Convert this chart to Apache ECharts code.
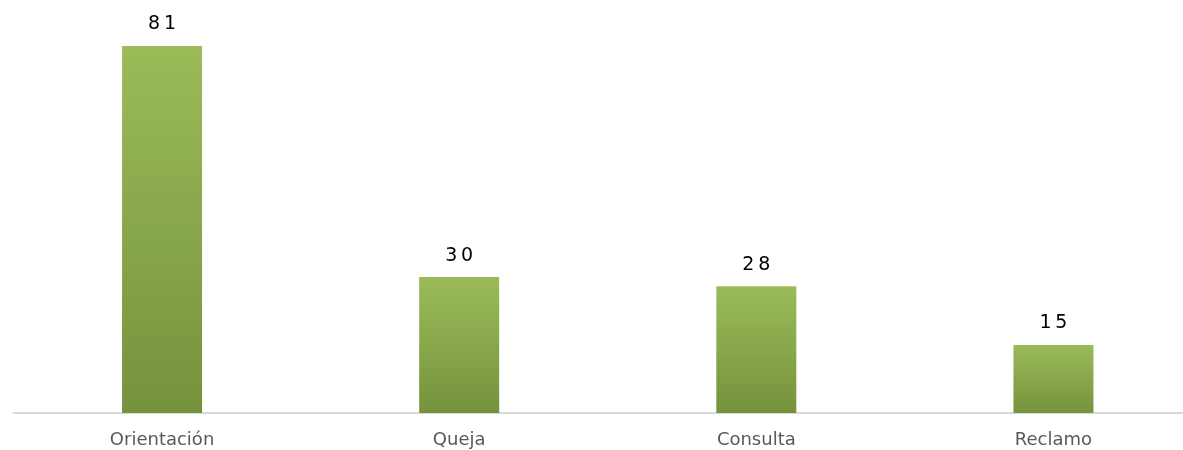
<!DOCTYPE html>
<html>
<head>
<meta charset="utf-8">
<script src="https://cdn.jsdelivr.net/npm/echarts@6/dist/echarts.min.js"></script>
<style>
html,body{margin:0;padding:0;background:#fff;overflow:hidden;width:1183px;height:450px;}
#chart{width:1202px;height:450px;}
</style>
</head>
<body>
<div id="chart"></div>
<script>
const categories = ["Orientación", "Queja", "Consulta", "Reclamo"];
const values = [81, 30, 28, 15];

const chart = echarts.init(document.getElementById('chart'));
chart.setOption({
  animation: false,
  grid: { left: 13.5, top: 46, right: 0, bottom: 37, containLabel: false },
  xAxis: {
    type: 'category',
    data: categories,
    axisLine: { lineStyle: { color: '#d9d9d9', width: 2 } },
    axisTick: { show: false },
    axisLabel: { color: '#595959', fontSize: 18, margin: 18, fontFamily: 'DejaVu Sans' }
  },
  yAxis: {
    type: 'value', min: 0, max: 81,
    show: false,
    splitLine: { show: false }
  },
  series: [{
    type: 'bar',
    data: values,
    barWidth: 80,
    itemStyle: {
      color: new echarts.graphic.LinearGradient(0, 0, 0, 1, [
        { offset: 0, color: '#9bbb59' },
        { offset: 1, color: '#76923c' }
      ])
    },
    label: {
      show: true, position: 'top', distance: 12,
      color: '#000', fontSize: 19, fontFamily: 'DejaVu Sans',
      formatter: p => String(p.value).split('').join('\u2009')
    }
  }]
});
</script>
</body>
</html>
